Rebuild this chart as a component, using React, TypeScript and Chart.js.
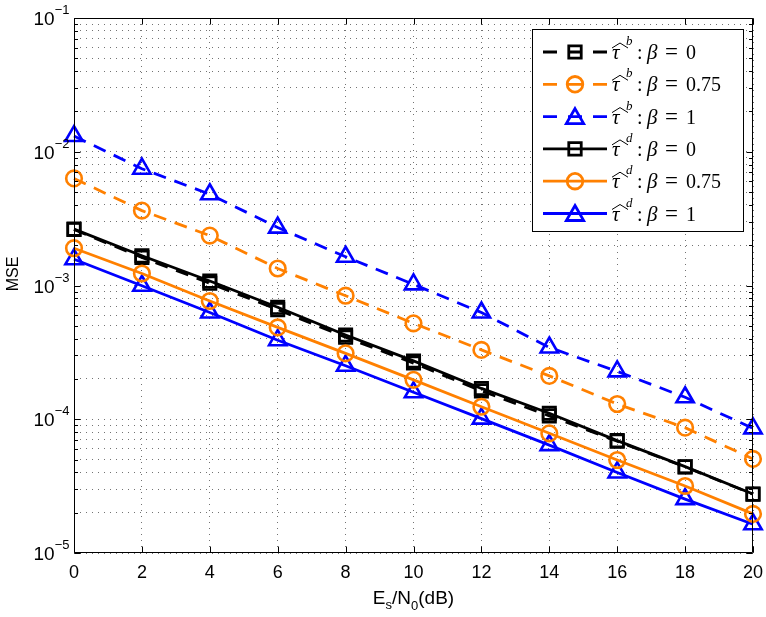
import React, { useEffect, useRef } from 'react';
import { Chart, registerables } from 'chart.js';

Chart.register(...registerables);

// ---- data ----
const snrDb = [0, 2, 4, 6, 8, 10, 12, 14, 16, 18, 20];
const mseTauB_beta0 = [0.00262, 0.00162, 0.00104, 0.00066, 0.00041, 0.000263, 0.000163, 0.000106, 0.0000685, 0.000044, 0.0000275];
const mseTauB_beta075 = [0.00632, 0.00363, 0.00236, 0.00134, 0.000839, 0.000521, 0.00033, 0.000211, 0.00013, 0.0000865, 0.0000505];
const mseTauB_beta1 = [0.0131, 0.00747, 0.00481, 0.00271, 0.00164, 0.00102, 0.000628, 0.000344, 0.000228, 0.000146, 0.0000854];
const mseTauD_beta0 = [0.00264, 0.00167, 0.00108, 0.000687, 0.000427, 0.000273, 0.00017, 0.000111, 0.0000692, 0.0000442, 0.0000276];
const mseTauD_beta075 = [0.0019, 0.00123, 0.000766, 0.000486, 0.000311, 0.000197, 0.000124, 0.0000785, 0.0000496, 0.0000317, 0.0000196];
const mseTauD_beta1 = [0.00157, 0.000996, 0.000628, 0.00039, 0.000251, 0.000159, 0.000101, 0.000064, 0.00004, 0.0000253, 0.0000164];

const xTickValues = [0, 2, 4, 6, 8, 10, 12, 14, 16, 18, 20];
const yDecadeExponents = [-5, -4, -3, -2, -1];
const legendEstimators = ['b', 'b', 'b', 'd', 'd', 'd'];
const legendBetas = ['0', '0.75', '1', '0', '0.75', '1'];

const BLACK = '#000000';
const ORANGE = '#ff8000';
const BLUE = '#0000ff';
const DASH = [13, 9];

const yGridValues: number[] = [];
for (let i = 0; i < yDecadeExponents.length - 1; i++) {
  const base = Math.pow(10, yDecadeExponents[i]);
  for (let m = 1; m <= 9; m++) yGridValues.push(parseFloat((m * base).toPrecision(3)));
}
yGridValues.push(Math.pow(10, yDecadeExponents[yDecadeExponents.length - 1]));

const SANS = '"Liberation Sans", Arial, Helvetica, sans-serif';
const SERIF = '"Liberation Serif", "Times New Roman", serif';

type Style = { color: string; dash: number[]; marker: 'rect' | 'circle' | 'triangle'; radius: number };
const seriesStyles: Style[] = [
  { color: BLACK, dash: DASH, marker: 'rect', radius: 8.8 },
  { color: ORANGE, dash: DASH, marker: 'circle', radius: 7.8 },
  { color: BLUE, dash: DASH, marker: 'triangle', radius: 10 },
  { color: BLACK, dash: [], marker: 'rect', radius: 8.8 },
  { color: ORANGE, dash: [], marker: 'circle', radius: 7.8 },
  { color: BLUE, dash: [], marker: 'triangle', radius: 10 },
];
const seriesValues = [mseTauB_beta0, mseTauB_beta075, mseTauB_beta1, mseTauD_beta0, mseTauD_beta075, mseTauD_beta1];

function drawMarker(ctx: CanvasRenderingContext2D, kind: string, x: number, y: number, r: number) {
  ctx.beginPath();
  if (kind === 'rect') {
    const s = r * Math.SQRT1_2;
    ctx.rect(x - s, y - s, 2 * s, 2 * s);
  } else if (kind === 'circle') {
    ctx.arc(x, y, r, 0, Math.PI * 2);
  } else {
    let a = 0;
    ctx.moveTo(x + Math.sin(a) * r, y - Math.cos(a) * r);
    a += (2 * Math.PI) / 3;
    ctx.lineTo(x + Math.sin(a) * r, y - Math.cos(a) * r);
    a += (2 * Math.PI) / 3;
    ctx.lineTo(x + Math.sin(a) * r, y - Math.cos(a) * r);
    ctx.closePath();
  }
  ctx.stroke();
}

const decorPlugin = {
  id: 'matlabDecor',
  afterDraw(chart: any) {
    const { ctx, chartArea: ca, scales } = chart;
    const xs = scales.x;
    const ys = scales.y;
    ctx.save();
    ctx.setLineDash([]);
    ctx.strokeStyle = '#000';
    ctx.lineWidth = 1;
    const L = Math.round(ca.left) + 0.5;
    const R = Math.round(ca.right) - 0.5;
    const T = Math.round(ca.top) + 0.5;
    const B = Math.round(ca.bottom) - 0.5;
    ctx.beginPath();
    ctx.rect(L, T, R - L, B - T);
    ctx.stroke();

    // inward ticks
    ctx.beginPath();
    for (const v of xTickValues) {
      const px = Math.round(xs.getPixelForValue(v)) + 0.5;
      ctx.moveTo(px, B); ctx.lineTo(px, B - 6);
      ctx.moveTo(px, T); ctx.lineTo(px, T + 6);
    }
    for (const v of yGridValues) {
      const py = Math.round(ys.getPixelForValue(v)) + 0.5;
      const major = Math.abs(Math.log10(v) - Math.round(Math.log10(v))) < 1e-6;
      const len = major ? 6 : 3.5;
      ctx.moveTo(L, py); ctx.lineTo(L + len, py);
      ctx.moveTo(R, py); ctx.lineTo(R - len, py);
    }
    ctx.stroke();

    // y tick labels 10^n
    ctx.fillStyle = '#000';
    ctx.textBaseline = 'alphabetic';
    for (const e of yDecadeExponents) {
      const py = ys.getPixelForValue(Math.pow(10, e));
      const sup = '\u2212' + String(Math.abs(e));
      ctx.font = `13px ${SANS}`;
      const supW = ctx.measureText(sup).width;
      ctx.font = `19px ${SANS}`;
      const baseW = ctx.measureText('10').width;
      const right = L - 5;
      ctx.textAlign = 'left';
      ctx.fillText('10', right - supW - baseW, py + 7);
      ctx.font = `13px ${SANS}`;
      ctx.fillText(sup, right - supW, py - 4);
    }

    // x axis title E_s/N_0(dB)
    const parts = [
      { t: 'E', f: `19px ${SANS}`, dy: 0 },
      { t: 's', f: `13px ${SANS}`, dy: 5 },
      { t: '/N', f: `19px ${SANS}`, dy: 0 },
      { t: '0', f: `13px ${SANS}`, dy: 6 },
      { t: '(dB)', f: `19px ${SANS}`, dy: 0 },
    ];
    let tw = 0;
    for (const p of parts) { ctx.font = p.f; tw += ctx.measureText(p.t).width; }
    let cx = (ca.left + ca.right) / 2 - tw / 2;
    const baseY = 604;
    for (const p of parts) {
      ctx.font = p.f;
      ctx.fillText(p.t, cx, baseY + p.dy);
      cx += ctx.measureText(p.t).width;
    }

    // y axis title
    ctx.save();
    ctx.translate(18, 274);
    ctx.rotate(-Math.PI / 2);
    ctx.font = `16px ${SANS}`;
    ctx.textAlign = 'center';
    ctx.fillText('MSE', 0, 0);
    ctx.restore();

    // legend
    const lx0 = 532.5, ly0 = 29.5, lx1 = 743.5, ly1 = 231.5;
    ctx.fillStyle = '#fff';
    ctx.fillRect(lx0, ly0, lx1 - lx0, ly1 - ly0);
    ctx.strokeStyle = '#000';
    ctx.lineWidth = 1;
    ctx.strokeRect(lx0, ly0, lx1 - lx0, ly1 - ly0);
    for (let i = 0; i < seriesStyles.length; i++) {
      const st = seriesStyles[i];
      const cy = 52 + i * 32.3;
      ctx.strokeStyle = st.color;
      ctx.lineWidth = 2.8;
      ctx.beginPath();
      if (st.dash.length) {
        ctx.setLineDash([14, 11]);
      } else {
        ctx.setLineDash([]);
      }
      ctx.moveTo(543, cy); ctx.lineTo(607, cy);
      ctx.stroke();
      ctx.setLineDash([]);
      drawMarker(ctx, st.marker, 575, st.marker === 'triangle' ? cy + 2 : cy, st.radius);

      // label text
      ctx.fillStyle = '#000';
      ctx.textAlign = 'left';
      const by = cy + 7;
      ctx.font = `italic 21px ${SERIF}`;
      ctx.fillText('\u03c4', 612, by);
      // wide hat over tau
      ctx.strokeStyle = '#000';
      ctx.lineWidth = 1;
      ctx.beginPath();
      ctx.moveTo(612, by - 11);
      ctx.lineTo(620, by - 16);
      ctx.lineTo(628, by - 11);
      ctx.stroke();
      ctx.font = `italic 13px ${SERIF}`;
      ctx.fillText(legendEstimators[i], 626, by - 14);
      ctx.font = `20px ${SERIF}`;
      ctx.fillText(':', 637, by);
      ctx.font = `italic 21px ${SERIF}`;
      ctx.fillText('\u03b2', 647, by);
      ctx.font = `23px ${SERIF}`;
      const eqW = ctx.measureText('=').width;
      ctx.fillText('=', 671.5 - eqW / 2, by);
      ctx.font = `20px ${SERIF}`;
      ctx.fillText(legendBetas[i], 686, by);
    }
    ctx.restore();
  },
};

export default function App() {
  const canvasRef = useRef<HTMLCanvasElement | null>(null);

  useEffect(() => {
    document.body.style.margin = '0';
    const canvas = canvasRef.current;
    if (!canvas) return;
    const datasets = seriesStyles.map((st, i) => ({
      label: `\u03c4${legendEstimators[i]} : \u03b2 = ${legendBetas[i]}`,
      data: snrDb.map((x, j) => ({ x, y: seriesValues[i][j] })),
      borderColor: st.color,
      borderWidth: 2.8,
      borderDash: st.dash,
      pointStyle: st.marker,
      pointRadius: st.radius,
      pointHoverRadius: st.radius,
      pointBorderWidth: 2.6,
      pointBorderColor: st.color,
      pointBackgroundColor: 'rgba(0,0,0,0)',
      backgroundColor: 'rgba(0,0,0,0)',
      fill: false,
      tension: 0,
      clip: false as any,
      order: st.dash.length ? 1 : 0,
    }));
    const chart = new Chart(canvas, {
      type: 'line',
      data: { datasets },
      options: {
        animation: false,
        responsive: false,
        maintainAspectRatio: false,
        layout: { padding: { top: 18, right: 13, left: 0, bottom: 0 } },
        plugins: { legend: { display: false }, tooltip: { enabled: false } },
        scales: {
          x: {
            type: 'linear',
            min: 0,
            max: 20,
            afterBuildTicks: (scale: any) => {
              scale.ticks = xTickValues.map((v) => ({ value: v }));
            },
            afterFit: (scale: any) => {
              scale.height = 64;
              scale.paddingLeft = 0;
              scale.paddingRight = 0;
            },
            ticks: {
              color: '#000',
              font: { family: SANS, size: 18 },
              padding: 9,
              maxRotation: 0,
              autoSkip: false,
            },
            grid: { color: 'rgba(0,0,0,0.55)', lineWidth: 1, drawTicks: false },
            border: { display: false, dash: [1, 5] },
          },
          y: {
            type: 'logarithmic',
            min: 1e-5,
            max: 1e-1,
            afterBuildTicks: (scale: any) => {
              scale.ticks = yGridValues.map((v) => ({ value: v }));
            },
            afterFit: (scale: any) => {
              scale.width = 74;
              scale.paddingTop = 0;
              scale.paddingBottom = 0;
            },
            ticks: { display: false },
            grid: { color: 'rgba(0,0,0,0.55)', lineWidth: 1, drawTicks: false },
            border: { display: false, dash: [1, 5] },
          },
        },
      },
      plugins: [decorPlugin],
    });
    return () => chart.destroy();
  }, []);

  return (
    <div style={{ width: 766, height: 617, background: '#fff' }}>
      <canvas ref={canvasRef} width={766} height={617} style={{ display: 'block' }} />
    </div>
  );
}
